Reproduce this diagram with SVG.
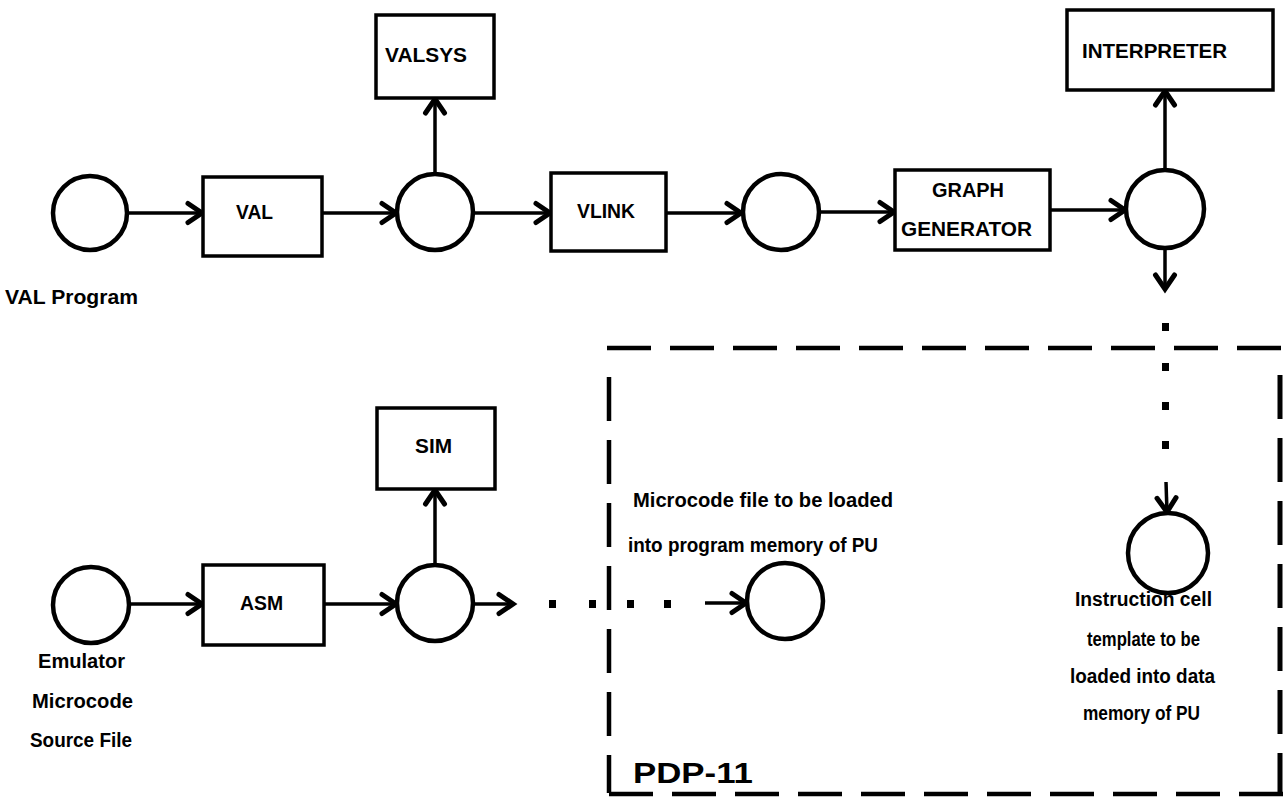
<svg xmlns="http://www.w3.org/2000/svg" width="1283" height="797" viewBox="0 0 1283 797">
<style>
  .box{fill:#fff;stroke:#000;stroke-width:3.5}
  .node{fill:#fff;stroke:#000;stroke-width:4.5}
  .lbl{font-family:"Liberation Sans",Arial,sans-serif;font-size:20px;font-weight:bold;fill:#000}
  .big{font-family:"Liberation Sans",Arial,sans-serif;font-size:29px;font-weight:bold;fill:#000}
  .conn{stroke:#000;stroke-width:3.5;fill:none;marker-end:url(#arr)}
  .dash{stroke:#000;stroke-width:4.5;fill:none;stroke-dasharray:44 19}
  .dot{fill:#000}
</style>
<defs>
  <marker id="arr" viewBox="-18 -12 22 24" refX="0" refY="0" markerWidth="22" markerHeight="24" markerUnits="userSpaceOnUse" orient="auto" overflow="visible">
    <path d="M-14,-9.5 L0,0 L-14,9.5" fill="none" stroke="#000" stroke-width="5" stroke-linejoin="miter" stroke-linecap="round"/>
  </marker>
</defs>
<rect width="1283" height="797" fill="#fff"/>

<g id="boundary">
  <line class="dash" x1="607" y1="348" x2="1283" y2="348"/>
  <line class="dash" x1="609" y1="377" x2="609" y2="793"/>
  <line class="dash" x1="609" y1="794" x2="1283" y2="794"/>
  <line class="dash" x1="1280" y1="375" x2="1280" y2="793" style="stroke-width:5"/>
  <text class="big" x="633" y="783" textLength="120" lengthAdjust="spacingAndGlyphs">PDP-11</text>
</g>

<g id="connectors">
  <line class="conn" x1="128" y1="213" x2="202" y2="213"/>
  <line class="conn" x1="322" y1="213" x2="396" y2="213"/>
  <line class="conn" x1="435" y1="174" x2="435" y2="99"/>
  <line class="conn" x1="473" y1="213" x2="550" y2="213"/>
  <line class="conn" x1="666" y1="213" x2="741" y2="213"/>
  <line class="conn" x1="820" y1="212" x2="894" y2="212"/>
  <line class="conn" x1="1050" y1="210" x2="1125" y2="210"/>
  <line class="conn" x1="1165" y1="170" x2="1165" y2="91"/>
  <line class="conn" x1="1165" y1="248" x2="1165" y2="289"/>
  <rect class="dot" x="1162" y="323" width="7" height="8"/>
  <rect class="dot" x="1162" y="363" width="7" height="8"/>
  <rect class="dot" x="1162" y="402" width="7" height="8"/>
  <rect class="dot" x="1162" y="441" width="7" height="8"/>
  <line class="conn" x1="1166" y1="482" x2="1167" y2="512"/>
  <line class="conn" x1="130" y1="604" x2="202" y2="604"/>
  <line class="conn" x1="324" y1="604" x2="396" y2="604"/>
  <line class="conn" x1="435" y1="564" x2="435" y2="490"/>
  <line class="conn" x1="473" y1="604" x2="513" y2="604"/>
  <rect class="dot" x="549" y="600" width="7" height="8"/>
  <rect class="dot" x="589" y="600" width="7" height="8"/>
  <rect class="dot" x="627" y="600" width="7" height="8"/>
  <rect class="dot" x="664" y="600" width="7" height="8"/>
  <line class="conn" x1="705" y1="603" x2="746" y2="603"/>
</g>

<g id="val-program">
  <circle class="node" cx="90" cy="213" r="37"/>
  <text class="lbl" x="5" y="304" textLength="133" lengthAdjust="spacingAndGlyphs">VAL Program</text>
</g>
<g id="val">
  <rect class="box" x="203" y="177" width="119" height="79"/>
  <text class="lbl" x="236" y="219" textLength="37" lengthAdjust="spacingAndGlyphs">VAL</text>
</g>
<g id="val-out">
  <circle class="node" cx="435" cy="212" r="38"/>
</g>
<g id="valsys">
  <rect class="box" x="376" y="15" width="118" height="83"/>
  <text class="lbl" x="385" y="62" textLength="82" lengthAdjust="spacingAndGlyphs">VALSYS</text>
</g>
<g id="vlink">
  <rect class="box" x="551" y="173" width="115" height="78"/>
  <text class="lbl" x="577" y="218" textLength="58" lengthAdjust="spacingAndGlyphs">VLINK</text>
</g>
<g id="vlink-out">
  <circle class="node" cx="781" cy="212" r="38"/>
</g>
<g id="graph-generator">
  <rect class="box" x="895" y="170" width="155" height="80"/>
  <text class="lbl" x="932" y="197" textLength="72" lengthAdjust="spacingAndGlyphs">GRAPH</text>
  <text class="lbl" x="901" y="236" textLength="131" lengthAdjust="spacingAndGlyphs">GENERATOR</text>
</g>
<g id="graph-out">
  <circle class="node" cx="1165" cy="209" r="39"/>
</g>
<g id="interpreter">
  <rect class="box" x="1067" y="10" width="206" height="80"/>
  <text class="lbl" x="1082" y="58" textLength="145" lengthAdjust="spacingAndGlyphs">INTERPRETER</text>
</g>
<g id="instruction-cell">
  <circle class="node" cx="1168" cy="553" r="40"/>
  <text class="lbl" x="1075" y="606" textLength="137" lengthAdjust="spacingAndGlyphs">Instruction cell</text>
  <text class="lbl" x="1087" y="646" textLength="113" lengthAdjust="spacingAndGlyphs">template to be</text>
  <text class="lbl" x="1070" y="683" textLength="145" lengthAdjust="spacingAndGlyphs">loaded into data</text>
  <text class="lbl" x="1083" y="720" textLength="117" lengthAdjust="spacingAndGlyphs">memory of PU</text>
</g>

<g id="emulator-source">
  <circle class="node" cx="91" cy="605" r="38"/>
  <text class="lbl" x="38" y="668" textLength="87" lengthAdjust="spacingAndGlyphs">Emulator</text>
  <text class="lbl" x="32" y="708" textLength="101" lengthAdjust="spacingAndGlyphs">Microcode</text>
  <text class="lbl" x="30" y="747" textLength="102" lengthAdjust="spacingAndGlyphs">Source File</text>
</g>
<g id="asm">
  <rect class="box" x="203" y="565" width="121" height="80"/>
  <text class="lbl" x="240" y="610" textLength="43" lengthAdjust="spacingAndGlyphs">ASM</text>
</g>
<g id="asm-out">
  <circle class="node" cx="435" cy="603" r="38"/>
</g>
<g id="sim">
  <rect class="box" x="377" y="408" width="118" height="81"/>
  <text class="lbl" x="415" y="453" textLength="37" lengthAdjust="spacingAndGlyphs">SIM</text>
</g>
<g id="microcode-file">
  <circle class="node" cx="785" cy="601" r="38"/>
  <text class="lbl" x="633" y="507" textLength="260" lengthAdjust="spacingAndGlyphs">Microcode file to be loaded</text>
  <text class="lbl" x="628" y="552" textLength="250" lengthAdjust="spacingAndGlyphs">into program memory of PU</text>
</g>
</svg>
